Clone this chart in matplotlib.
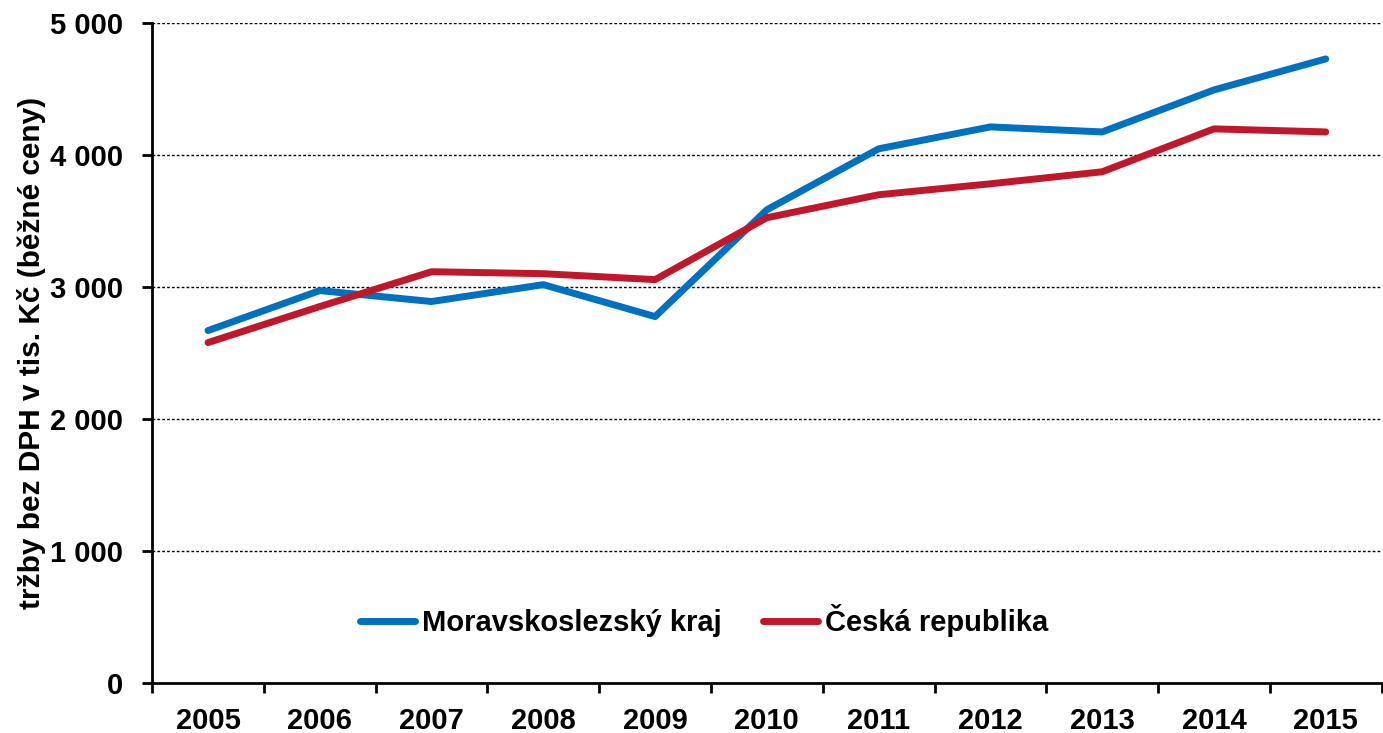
import matplotlib
matplotlib.use("Agg")
import matplotlib.pyplot as plt
import numpy as np

years = ["2005", "2006", "2007", "2008", "2009", "2010", "2011", "2012", "2013", "2014", "2015"]
msk = [2670, 2973, 2890, 3018, 2776, 3585, 4047, 4213, 4175, 4493, 4728]
cr = [2579, 2852, 3116, 3101, 3056, 3525, 3699, 3782, 3873, 4198, 4175]
yticks = [0, 1000, 2000, 3000, 4000, 5000]
ytick_labels = ["0", "1 000", "2 000", "3 000", "4 000", "5 000"]

plt.rcParams['font.family'] = ['Liberation Sans', 'DejaVu Sans']
plt.rcParams['font.weight'] = 'bold'

fig = plt.figure(figsize=(13.83, 7.33), dpi=100)
ax = fig.add_axes([0.110, 0.0682, 0.889, 0.9004])

x = np.arange(len(years))
ax.plot(x, msk, color='#0070C0', lw=5, solid_capstyle='round', solid_joinstyle='round', label='Moravskoslezský kraj', zorder=3)
ax.plot(x, cr, color='#C0182A', lw=5, solid_capstyle='round', solid_joinstyle='round', label='Česká republika', zorder=3)

ax.set_xlim(-0.5, len(years) - 0.5)
ax.set_ylim(0, 5000)
ax.set_yticks(yticks)
ax.set_yticklabels(ytick_labels, fontsize=21, fontweight='bold')
ax.set_xticks(x)
ax.set_xticklabels(years, fontsize=21, fontweight='bold')
ax.tick_params(axis='x', which='major', length=0, pad=17)
ax.set_xticks(np.arange(-0.5, len(years)), minor=True)
ax.tick_params(axis='x', which='minor', length=7, width=2, direction='out')
ax.tick_params(axis='y', length=7, width=2, direction='out', pad=14)

for v in yticks[1:]:
    ax.axhline(v, color='black', lw=1, ls=(0, (2, 1.5)), zorder=1)

for s in ['top', 'right']:
    ax.spines[s].set_visible(False)
for s in ['left', 'bottom']:
    ax.spines[s].set_linewidth(2)

ax.set_ylabel('tržby bez DPH v tis. Kč (běžné ceny)', fontsize=21.5, fontweight='bold', labelpad=3)

leg = ax.legend(loc='lower center', bbox_to_anchor=(0.449, 0.03), ncol=2, frameon=False,
                handlelength=1.9, handletextpad=0.25, columnspacing=1.4,
                prop={'weight': 'bold', 'size': 21})

fig.savefig('out.png', dpi=100)
